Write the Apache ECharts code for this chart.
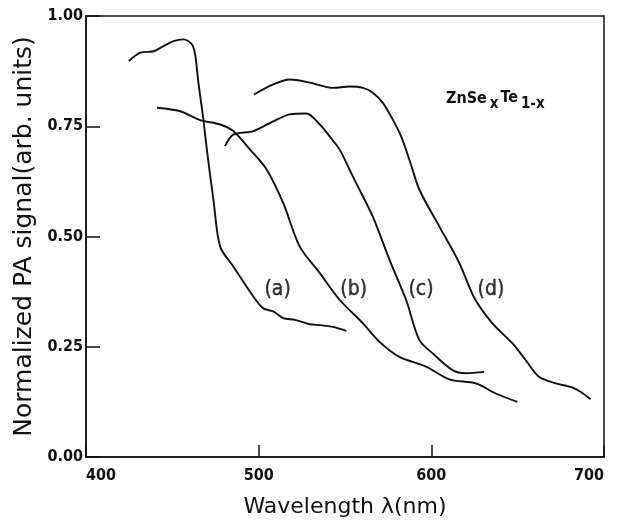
<!DOCTYPE html>
<html>
<head>
    <meta charset="utf-8">
    <title>ZnSeTe PA spectra</title>
    <script src="https://cdn.jsdelivr.net/npm/echarts@6/dist/echarts.min.js"></script>
</head>
<body style="margin:0">
    <div id="main" style="width:618px;height:525px;"></div>
    <script type="text/javascript">
        // wavelength (nm) / normalized signal
        var waveA = [424.8, 431.5, 439.2, 445, 450.7, 456.5, 461.3, 463.2, 465.1, 468, 470, 473.8, 477.7, 485.3, 496.9, 502.7, 508.4, 514.2, 521, 529.6, 535.4, 543, 550.8];
        var sigA  = [0.898, 0.917, 0.92, 0.932, 0.943, 0.947, 0.936, 0.913, 0.849, 0.765, 0.697, 0.583, 0.477, 0.432, 0.364, 0.337, 0.33, 0.315, 0.311, 0.301, 0.299, 0.295, 0.286];

        var waveB = [441.1, 454.6, 466.1, 477.7, 485.3, 495, 504.6, 514.2, 523.8, 535.4, 547, 560.4, 570, 581.5, 596.9, 610.4, 625.8, 637.3, 649.8];
        var sigB  = [0.792, 0.784, 0.764, 0.754, 0.739, 0.697, 0.652, 0.576, 0.477, 0.417, 0.356, 0.303, 0.261, 0.227, 0.205, 0.176, 0.167, 0.144, 0.125];

        var waveC = [480.5, 485.3, 496.9, 508.4, 518, 527.7, 535.4, 541.1, 546.9, 552.6, 556.5, 566.1, 575.8, 585.4, 593.1, 600.8, 612.3, 620, 630.6];
        var sigC  = [0.705, 0.731, 0.739, 0.761, 0.777, 0.779, 0.754, 0.727, 0.697, 0.652, 0.621, 0.545, 0.447, 0.356, 0.265, 0.235, 0.197, 0.19, 0.193];

        var waveD = [497.3, 508.4, 518, 529.6, 543, 552.6, 560.4, 566.1, 571.9, 577.7, 582.5, 587.3, 593.1, 604.6, 616.2, 625, 635.4, 646.9, 654.6, 662.3, 672, 681.5, 686.4, 692.2];
        var sigD  = [0.822, 0.845, 0.856, 0.849, 0.837, 0.84, 0.837, 0.826, 0.803, 0.765, 0.727, 0.674, 0.606, 0.523, 0.44, 0.36, 0.303, 0.258, 0.22, 0.182, 0.167, 0.158, 0.148, 0.131];

        var curveNames = ['(a)', '(b)', '(c)', '(d)'];
        var labelWave = [511, 555, 594, 634.5];
        var labelSig  = [0.38, 0.38, 0.38, 0.38];

        var xTicks = [400, 500, 600, 700];
        var yTicks = ['0.00', '0.25', '0.50', '0.75', '1.00'];

        var font = 'DejaVu Sans Condensed, DejaVu Sans, sans-serif';
        var nameFont = 'DejaVu Sans, sans-serif';

        function pairs(xs, ys) {
            var out = [];
            for (var i = 0; i < xs.length; i++) out.push([xs[i], ys[i]]);
            return out;
        }

        function curve(xs, ys) {
            return {
                type: 'line',
                data: pairs(xs, ys),
                smooth: 0.3,
                showSymbol: false,
                lineStyle: { color: '#111', width: 1.9 }
            };
        }

        var labelData = [];
        for (var i = 0; i < curveNames.length; i++) {
            labelData.push([labelWave[i], labelSig[i], curveNames[i]]);
        }

        var myChart = echarts.init(document.getElementById('main'));
        var option = {
            backgroundColor: '#fff',
            animation: false,
            textStyle: { fontFamily: font },
            grid: {
                left: 86, right: 14, top: 16, bottom: 68,
                show: true, borderColor: '#111', borderWidth: 1.5
            },
            xAxis: {
                type: 'value', min: 400, max: 700, interval: 100,
                name: 'Wavelength λ(nm)', nameLocation: 'middle', nameGap: 39,
                nameTextStyle: { fontSize: 22, color: '#111', fontFamily: nameFont },
                axisLine: { lineStyle: { color: '#111', width: 1.5 } },
                axisTick: { inside: true, length: 12, lineStyle: { color: '#111', width: 1.5 } },
                splitLine: { show: false },
                axisLabel: {
                    color: '#111', fontSize: 16, fontWeight: 'bold', margin: 11,
                    fontFamily: font, alignMinLabel: 'left', alignMaxLabel: 'right',
                    formatter: function (v) { return xTicks.indexOf(v) >= 0 ? String(v) : ''; }
                }
            },
            yAxis: {
                type: 'value', min: 0, max: 1, interval: 0.25,
                name: 'Normalized PA signal(arb. units)', nameLocation: 'middle', nameGap: 41,
                nameTextStyle: { fontSize: 25, color: '#111', fontFamily: nameFont },
                axisLine: { lineStyle: { color: '#111', width: 1.5 } },
                axisTick: { inside: true, length: 14, lineStyle: { color: '#111', width: 1.5 } },
                splitLine: { show: false },
                axisLabel: {
                    color: '#111', fontSize: 16, fontWeight: 'bold', margin: 3, fontFamily: font,
                    formatter: function (v) { return yTicks[Math.round(v * 4)]; }
                }
            },
            graphic: [{
                type: 'text', left: 446, top: 90,
                style: {
                    text: 'ZnSe{s|x}{t|Te}{s|1-x}',
                    font: 'bold 16px ' + font,
                    fill: '#111',
                    rich: {
                        s: { fontSize: 15, fontWeight: 'bold', fontFamily: font, padding: [11, 2, 0, 3] },
                        t: { fontSize: 16, fontWeight: 'bold', fontFamily: font, padding: [0, 0, 1, 0] }
                    }
                }
            }],
            series: [
                curve(waveA, sigA),
                curve(waveB, sigB),
                curve(waveC, sigC),
                curve(waveD, sigD),
                {
                    type: 'scatter',
                    data: labelData,
                    symbolSize: 0,
                    label: {
                        show: true, position: 'inside', color: '#000', fontSize: 21, fontFamily: font,
                        textBorderColor: '#000', textBorderWidth: 0.4,
                        formatter: function (p) { return p.value[2]; }
                    }
                }
            ]
        };
        myChart.setOption(option);
    </script>
</body>
</html>
